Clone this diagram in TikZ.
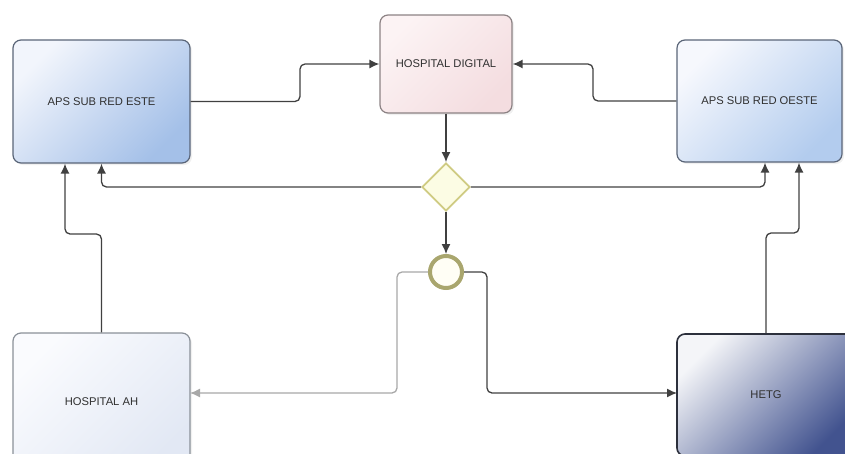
\documentclass[tikz,border=0pt]{standalone}
\usepackage{fontspec}
\setmainfont{Liberation Sans}
\usetikzlibrary{shapes.geometric,arrows.meta,shadows}
\definecolor{conncol}{HTML}{404040}
\definecolor{lightconn}{HTML}{A8A8A8}
\definecolor{txtcol}{HTML}{303030}
\definecolor{esteA}{HTML}{F2F5FC}
\definecolor{esteB}{HTML}{A4C0E8}
\definecolor{esteD}{HTML}{5A6578}
\definecolor{oesteA}{HTML}{F6F8FD}
\definecolor{oesteB}{HTML}{B3CCEE}
\definecolor{hdA}{HTML}{FCF3F4}
\definecolor{hdB}{HTML}{F4DDE0}
\definecolor{hdD}{HTML}{8C8284}
\definecolor{ahA}{HTML}{FAFBFE}
\definecolor{ahB}{HTML}{E2E8F4}
\definecolor{ahD}{HTML}{8A9098}
\definecolor{hetgA}{HTML}{F4F5F8}
\definecolor{hetgB}{HTML}{42538F}
\definecolor{hetgD}{HTML}{2C303C}
\definecolor{gwfill}{HTML}{FCFCE4}
\definecolor{gwdraw}{HTML}{CFCB82}
\definecolor{evdraw}{HTML}{A9A66E}
\tikzset{
  taskbox/.style={rectangle, rounded corners=8pt, line width=1.2pt, inner sep=0pt,
    font=\fontsize{11.2}{13}\selectfont, text=txtcol,
    drop shadow={opacity=0.12, shadow xshift=2pt, shadow yshift=-2pt}},
  conn/.style={draw=conncol, line width=1.3pt, rounded corners=5pt,
    -{Latex[length=10pt,width=9pt]}},
  lconn/.style={conn, draw=lightconn, -{Latex[length=10pt,width=9pt,fill=lightconn]}},
  gateway/.style={diamond, aspect=1, minimum size=48pt, inner sep=0pt,
    fill=gwfill, draw=gwdraw, line width=1.8pt},
  eventc/.style={circle, minimum size=32pt, inner sep=0pt, fill=white!96!yellow,
    draw=evdraw, line width=4pt}
}
\begin{document}
\begin{tikzpicture}[x=1pt,y=-1pt]
\useasboundingbox (0,0) rectangle (845,453);
\clip (0,0) rectangle (845,453);
\node[taskbox, minimum width=177pt, minimum height=123pt, draw=esteD,
  top color=esteA, bottom color=esteB, shading angle=45] (este) at (101.5,101.5) {APS SUB RED ESTE};
\node[taskbox, minimum width=132pt, minimum height=98pt, draw=hdD,
  top color=hdA, bottom color=hdB, shading angle=45] (hd) at (446,64) {HOSPITAL DIGITAL};
\node[taskbox, minimum width=165pt, minimum height=122pt, draw=esteD,
  top color=oesteA, bottom color=oesteB, shading angle=45] (oeste) at (759.5,101) {APS SUB RED OESTE};
\node[taskbox, minimum width=177pt, minimum height=138pt, draw=ahD,
  top color=ahA, bottom color=ahB, shading angle=45] (ah) at (101.5,402) {HOSPITAL AH};
\node[taskbox, minimum width=178pt, minimum height=122pt, draw=hetgD, line width=1.6pt,
  top color=hetgA, bottom color=hetgB, shading angle=45] (hetg) at (766,395) {HETG};
\node[gateway] (gw) at (446,187) {};
\node[eventc] (ev) at (446,272) {};
\coordinate (ahin) at (190,393);
\coordinate (hetgin) at (677,393);
% connectors
\draw[conn] (este.east) -- (300,101.5) |- (hd.west);
\draw[conn] (oeste.west) -- (593,101) |- (hd.east);
\draw[conn] (hd.south) -- (gw.north);
\draw[conn] (gw.west) -| (este.south);
\draw[conn] (gw.east) -| ([xshift=5.5pt]oeste.south);
\draw[conn] (ah.north) -- (101.5,234) -| ([xshift=-36.5pt]este.south);
\draw[conn] (hetg.north) -- (766,233) -| ([xshift=39.5pt]oeste.south);
\draw[conn] (gw.south) -- (ev.north);
\draw[lconn] (ev.west) -- (397,272) |- (ahin);
\draw[conn] (ev.east) -- (487,272) |- (hetgin);
\end{tikzpicture}
\end{document}
